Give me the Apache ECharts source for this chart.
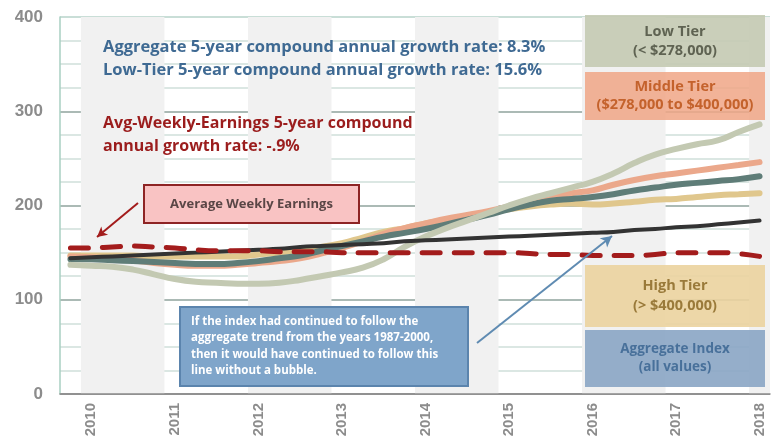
<!DOCTYPE html>
<html>
<head>
<meta charset="utf-8">
<script src="https://cdn.jsdelivr.net/npm/echarts@6/dist/echarts.min.js"></script>
<style>
  html, body { margin: 0; padding: 0; background: #fff; }
  #chart { width: 772px; height: 442px; }
</style>
</head>
<body>
<div id="chart"></div>
<script>
// quarters, 2009 Q4 .. 2018 Q1
const quarters = [
  '2009 Q4',
  '2010 Q1', '2010 Q2', '2010 Q3', '2010 Q4',
  '2011 Q1', '2011 Q2', '2011 Q3', '2011 Q4',
  '2012 Q1', '2012 Q2', '2012 Q3', '2012 Q4',
  '2013 Q1', '2013 Q2', '2013 Q3', '2013 Q4',
  '2014 Q1', '2014 Q2', '2014 Q3', '2014 Q4',
  '2015 Q1', '2015 Q2', '2015 Q3', '2015 Q4',
  '2016 Q1', '2016 Q2', '2016 Q3', '2016 Q4',
  '2017 Q1', '2017 Q2', '2017 Q3', '2017 Q4',
  '2018 Q1'
]
const yTicks = [0, 100, 200, 300, 400]

const highTier = [147, 147, 147, 147, 146, 146, 146, 146, 146, 148, 150, 153, 156, 160, 166, 172, 176,
  181, 185, 189, 192, 196, 199, 201, 202, 201, 202, 204, 206, 207, 209, 211, 212, 213]
const middleTier = [146, 145, 144, 142, 139, 137, 136, 136, 137, 139, 141, 144, 149, 155, 162, 170, 176,
  181, 186, 190, 194, 199, 205, 209, 213, 216, 222, 227, 231, 234, 237, 240, 243, 246]
const aggregate = [143, 143, 142, 141, 140, 139, 138, 138, 139, 141, 144, 147, 152, 157, 162, 167, 171,
  175, 180, 185, 190, 196, 201, 205, 207, 209, 212, 216, 219, 222, 224, 226, 228, 231]
const lowTier = [137, 136, 135, 132, 127, 122, 119, 118, 117, 117, 118, 121, 125, 129, 134, 143, 156,
  167, 176, 184, 192, 200, 207, 213, 219, 225, 234, 245, 254, 260, 265, 269, 278, 286]
const trend = [144, 145, 146, 147, 148, 149, 150, 151, 152, 153, 154, 156, 157, 158, 159, 160, 162,
  163, 164, 165, 166, 167, 168, 169, 170, 171, 172, 174, 175, 177, 178, 180, 182, 184]
const earnings = [155, 155, 156, 157, 156, 155, 153, 152, 152, 152, 151, 151, 151, 150, 150, 150, 150,
  150, 150, 150, 150, 150, 149, 148, 148, 147, 147, 147, 148, 150, 150, 150, 149, 146]

const chart = echarts.init(document.getElementById('chart'))
const font = "'Open Sans', 'Liberation Sans', sans-serif"
const isYearStart = (i) => i % 4 === 1

function tierLine (name, data, color, width) {
  return {
    name,
    type: 'line',
    data,
    smooth: true,
    symbol: 'none',
    lineStyle: { color, width, cap: 'round' }
  }
}

function box (x, y, w, h, fill, stroke, lines, color, size, gap) {
  const items = [{
    type: 'rect',
    shape: { x, y, width: w, height: h },
    style: { fill, stroke: stroke || null, lineWidth: stroke ? 2 : 0 },
    z: 10
  }]
  lines.forEach((t, k) => {
    items.push({
      type: 'text',
      x: x + w / 2,
      y: y + h / 2 + (k - (lines.length - 1) / 2) * gap,
      style: {
        text: t,
        fill: color,
        font: 'bold ' + size + 'px ' + font,
        align: 'center',
        verticalAlign: 'middle'
      },
      z: 11
    })
  })
  return items
}

function note (x, y, text, color, size) {
  return {
    type: 'text',
    x,
    y,
    style: { text, fill: color, font: 'bold ' + size + 'px ' + font, verticalAlign: 'middle' },
    z: 11
  }
}

const option = {
  animation: false,
  backgroundColor: '#ffffff',
  grid: { left: 60, right: 2, top: 17, bottom: 48 },
  xAxis: [
    {
      type: 'category',
      data: quarters,
      boundaryGap: true,
      axisLine: { lineStyle: { color: '#8a8a8a', width: 1.5 } },
      axisTick: { interval: 0, length: 5, lineStyle: { color: '#8a8a8a', width: 1.5 } },
      axisLabel: {
        interval: isYearStart,
        formatter: (v) => v.slice(0, 4),
        rotate: 90,
        margin: 9,
        color: '#8c8c8c',
        fontSize: 15,
        fontWeight: 'bold',
        fontFamily: 'Liberation Sans'
      },
      splitLine: { show: false },
      splitArea: {
        show: true,
        interval: isYearStart,
        areaStyle: { color: ['rgba(255,255,255,0)', '#f1f1f1'] }
      }
    },
    {
      type: 'category',
      data: quarters,
      boundaryGap: true,
      position: 'bottom',
      axisLine: { show: false },
      axisTick: { interval: 0, inside: true, length: 5, lineStyle: { color: '#8a8a8a', width: 1.5 } },
      axisLabel: { show: false },
      splitLine: { show: false }
    }
  ],
  yAxis: {
    type: 'value',
    min: yTicks[0],
    max: yTicks[yTicks.length - 1],
    interval: 100,
    axisLine: { show: true, lineStyle: { color: '#a8cfc2', width: 1.5 } },
    axisTick: { show: false },
    axisLabel: {
      margin: 17,
      color: '#8c8c8c',
      fontSize: 17,
      fontWeight: 'bold',
      fontFamily: 'Liberation Sans'
    },
    splitLine: {
      lineStyle: { color: ['#8a8a8a', '#8fa39d', '#8fa39d', '#8fa39d', '#b7d3ca'], width: 1.5 }
    },
    minorTick: { show: false, splitNumber: 4 },
    minorSplitLine: { show: true, lineStyle: { color: '#d0e0da', width: 1.5 } }
  },
  series: [
    tierLine('High Tier', highTier, '#e0c78d', 6),
    tierLine('Middle Tier', middleTier, '#eba88b', 6),
    tierLine('Aggregate Index', aggregate, '#5f7d78', 6),
    tierLine('Low Tier', lowTier, '#c3c9b2', 6),
    {
      name: 'Trend',
      type: 'line',
      data: trend,
      smooth: true,
      symbol: 'none',
      lineStyle: { color: '#333333', width: 4, cap: 'round' },
      markLine: {
        silent: true,
        symbol: ['none', 'arrow'],
        symbolSize: [9, 11],
        label: { show: false },
        lineStyle: { color: '#5f8bb2', width: 2, type: 'solid' },
        data: [[{ x: 477, y: 343 }, { x: 612, y: 236 }]]
      }
    },
    {
      name: 'Average Weekly Earnings',
      type: 'line',
      data: earnings,
      smooth: true,
      symbol: 'none',
      lineStyle: { color: '#a31c1c', width: 5, type: [18, 14], cap: 'round' },
      markLine: {
        silent: true,
        symbol: ['none', 'arrow'],
        symbolSize: [8, 10],
        label: { show: false },
        lineStyle: { color: '#a31c1c', width: 2, type: 'solid' },
        data: [[{ x: 138, y: 203 }, { x: 97, y: 237 }]]
      }
    }
  ],
  graphic: [
    note(103, 47, 'Aggregate 5-year compound annual growth rate: 8.3%', '#3f6a93', 16.5),
    note(103, 70, 'Low-Tier 5-year compound annual growth rate: 15.6%', '#3f6a93', 16.5),
    note(103, 123, 'Avg-Weekly-Earnings 5-year compound', '#9b1d1d', 16),
    note(103, 146, 'annual growth rate: -.9%', '#9b1d1d', 16),
    ...box(144, 185, 215, 38, '#f9c3c3', '#8e2424', ['Average Weekly Earnings'], '#5a4646', 13, 0),
    {
      type: 'rect',
      shape: { x: 180, y: 307, width: 288, height: 79 },
      style: { fill: '#7fa5ca', stroke: '#5b84ad', lineWidth: 2 },
      z: 10
    },
    note(191, 322, 'If the index had continued to follow the', '#ffffff', 11.5),
    note(191, 338, 'aggregate trend from the years 1987-2000,', '#ffffff', 11.5),
    note(191, 355, 'then it would have continued to follow this', '#ffffff', 11.5),
    note(191, 371, 'line without a bubble.', '#ffffff', 11.5),
    ...box(585, 15, 180, 52, 'rgba(196,202,178,0.9)', null, ['Low Tier', '(< $278,000)'], '#5f6352', 14.5, 19),
    ...box(585, 72, 180, 48, 'rgba(240,166,134,0.85)', null, ['Middle Tier', '($278,000 to $400,000)'], '#c4622c', 14.5, 18),
    ...box(585, 265, 180, 62, 'rgba(235,211,158,0.9)', null, ['High Tier', '(> $400,000)'], '#9a7a3a', 14.5, 20),
    ...box(585, 330, 180, 57, 'rgba(137,165,196,0.9)', null, ['Aggregate Index', '(all values)'], '#48709a', 13.5, 18)
  ]
}

chart.setOption(option)
window.addEventListener('resize', () => chart.resize())
</script>
</body>
</html>
